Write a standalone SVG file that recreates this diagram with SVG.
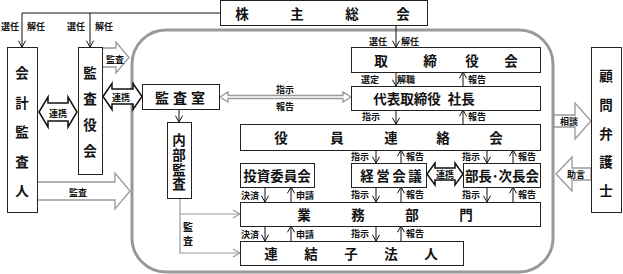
<svg xmlns="http://www.w3.org/2000/svg" width="623" height="274" viewBox="0 0 623 274">
<style>
.bx{fill:#fff;stroke:#222;stroke-width:1}
.t{font-family:"Noto Sans CJK JP","Liberation Sans",sans-serif;font-size:13.5px;font-weight:bold;fill:#111;text-anchor:middle;dominant-baseline:central}
.s{font-family:"Noto Sans CJK JP","Liberation Sans",sans-serif;font-size:9px;font-weight:bold;fill:#111;text-anchor:middle;dominant-baseline:central}
.ln{fill:none;stroke:#111;stroke-width:1;marker-end:url(#a)}
.gl{fill:none;stroke:#999;stroke-width:1.2;marker-end:url(#g)}
.ga{fill:#fff;stroke:#9a9a9a;stroke-width:1.3}
.ka{fill:#fff;stroke:#111;stroke-width:1.5}
</style>
<defs>
<marker id="a" viewBox="0 0 10 10" refX="9" refY="5" markerWidth="9" markerHeight="9" markerUnits="userSpaceOnUse" orient="auto"><path d="M2,1 L9,5 L2,9" fill="none" stroke="#111" stroke-width="1.1"/></marker>
<marker id="g" viewBox="0 0 10 10" refX="9" refY="5" markerWidth="10" markerHeight="10" markerUnits="userSpaceOnUse" orient="auto"><path d="M2,1 L9,5 L2,9" fill="none" stroke="#999" stroke-width="1.1"/></marker>
</defs>

<rect id="frame" x="132" y="30" width="421" height="242" rx="34" fill="none" stroke="#999" stroke-width="3"/>

<g id="connectors">
<polyline class="ln" points="220,13 22,13 22,47"/>
<line class="ln" x1="90" y1="13" x2="90" y2="47"/>
<line class="ln" x1="396" y1="25" x2="396" y2="47"/>
<line class="ln" x1="396" y1="72" x2="396" y2="86"/>
<line class="ln" x1="463" y1="86" x2="463" y2="72"/>
<line class="ln" x1="396" y1="110" x2="396" y2="124"/>
<line class="ln" x1="463" y1="124" x2="463" y2="110"/>
<line class="ln" x1="376" y1="150" x2="376" y2="163"/>
<line class="ln" x1="401" y1="163" x2="401" y2="150"/>
<line class="ln" x1="487" y1="150" x2="487" y2="163"/>
<line class="ln" x1="513" y1="163" x2="513" y2="150"/>
<line class="ln" x1="376" y1="187" x2="376" y2="202"/>
<line class="ln" x1="401" y1="202" x2="401" y2="187"/>
<line class="ln" x1="487" y1="187" x2="487" y2="202"/>
<line class="ln" x1="513" y1="202" x2="513" y2="187"/>
<line class="ln" x1="376" y1="226" x2="376" y2="241"/>
<line class="ln" x1="401" y1="241" x2="401" y2="226"/>
<line class="ln" x1="265" y1="187" x2="265" y2="202"/>
<line class="ln" x1="291" y1="202" x2="291" y2="187"/>
<line class="ln" x1="265" y1="226" x2="265" y2="241"/>
<line class="ln" x1="291" y1="241" x2="291" y2="226"/>
<line class="ln" x1="179" y1="110" x2="179" y2="122"/>
<polyline class="gl" points="180,198 180,253 240,253"/>
<line class="gl" x1="180" y1="214" x2="240" y2="214"/>
<polygon class="ga" points="220,97 228,92 228,95.5 343,95.5 343,92 351,97 343,102 343,98.5 228,98.5 228,102"/>
<polygon class="ga" points="37,182 115,182 115,173 130,191 115,209 115,200 37,200"/>
<polygon class="ga" points="102,48 116,48 116,42 129,57.5 116,73 116,67 102,67"/>
<polygon class="ka" points="39,112 48,97 48,103 68,103 68,97 77,112 68,127 68,121 48,121 48,127"/>
<polygon class="ka" points="103,96.5 112,83.5 112,89 133,89 133,83.5 142,96.5 133,109.5 133,104 112,104 112,109.5"/>
<polygon class="ka" points="427,174 435,163 435,168 455,168 455,163 463,174 455,185 455,180 435,180 435,185"/>
<polygon class="ga" points="554,115 575,115 575,103 591,121 575,139 575,127 554,127"/>
<polygon class="ga" points="556,174 572,157 572,168 591,168 591,180 572,180 572,191"/>
<text class="s" x="10" y="26">選任</text><text class="s" x="36" y="26">解任</text>
<text class="s" x="76" y="26">選任</text><text class="s" x="104" y="26">解任</text>
<text class="s" x="378" y="41">選任</text><text class="s" x="410" y="41">解任</text>
<text class="s" x="370" y="79">選定</text><text class="s" x="406" y="79">解職</text><text class="s" x="477" y="79">報告</text>
<text class="s" x="371" y="116">指示</text><text class="s" x="477" y="116">報告</text>
<text class="s" x="360" y="156">指示</text><text class="s" x="415" y="156">報告</text><text class="s" x="471" y="156">指示</text><text class="s" x="527" y="156">報告</text>
<text class="s" x="360" y="194">指示</text><text class="s" x="415" y="194">報告</text><text class="s" x="471" y="194">指示</text><text class="s" x="527" y="194">報告</text>
<text class="s" x="360" y="233">指示</text><text class="s" x="415" y="233">報告</text>
<text class="s" x="250" y="195">決済</text><text class="s" x="305" y="195">申請</text>
<text class="s" x="250" y="234">決済</text><text class="s" x="305" y="234">申請</text>
<text class="s" x="285" y="89">指示</text><text class="s" x="285" y="106">報告</text>
<text class="s" x="115" y="59">監査</text>
<text class="s" x="121" y="97">連携</text>
<text class="s" x="58" y="113">連携</text>
<text class="s" x="78" y="192">監査</text>
<text class="s" x="569" y="121">相談</text>
<text class="s" x="576" y="174">助言</text>
<text class="s" x="445" y="174">連携</text>
<text class="s" x="188 188" y="226 240" style="font-size:10px">監査</text>
</g>

<g id="shareholders"><rect class="bx" x="220.5" y="0.5" width="207" height="25"/><text class="t" x="242 297 352 403" y="13">株主総会</text></g>
<g id="auditor"><rect class="bx" x="7.5" y="47.5" width="30" height="165"/><text class="t" x="22 22 22 22 22" y="72 101.5 131 160.5 190">会計監査人</text></g>
<g id="audit-board"><rect class="bx" x="78.5" y="47.5" width="24" height="127"/><text class="t" x="90 90 90 90" y="72 98 124 150">監査役会</text></g>
<g id="audit-office"><rect class="bx" x="142.5" y="84.5" width="77" height="25"/><text class="t" x="162 180 198" y="97" style="font-size:14px">監査室</text></g>
<g id="internal-audit"><rect class="bx" x="167.5" y="122.5" width="24" height="76"/><text class="t" x="179 179 179 179" y="139 154 169 183">内部監査</text></g>
<g id="board"><rect class="bx" x="351.5" y="47.5" width="189" height="25"/><text class="t" x="381 430 472 511" y="60">取締役会</text></g>
<g id="president"><rect class="bx" x="351.5" y="86.5" width="189" height="24"/><text class="t" x="424" y="98">代表取締役<tspan dx="4"> 社長</tspan></text></g>
<g id="officers"><rect class="bx" x="240.5" y="124.5" width="300" height="26"/><text class="t" x="281 337 391 443 496" y="137">役員連絡会</text></g>
<g id="investment"><rect class="bx" x="240.5" y="163.5" width="74" height="24"/><text class="t" x="277" y="175">投資委員会</text></g>
<g id="management"><rect class="bx" x="351.5" y="163.5" width="75" height="24"/><text class="t" x="367 383 399 415" y="175">経営会議</text></g>
<g id="managers"><rect class="bx" x="463.5" y="163.5" width="77" height="24"/><text class="t" x="502" y="175">部長･次長会</text></g>
<g id="operations"><rect class="bx" x="240.5" y="202.5" width="300" height="24"/><text class="t" x="304 358 412 466" y="214">業務部門</text></g>
<g id="subsidiaries"><rect class="bx" x="240.5" y="241.5" width="223" height="24"/><text class="t" x="271 311 351 391 431" y="253">連結子法人</text></g>
<g id="lawyer"><rect class="bx" x="591.5" y="47.5" width="30" height="165"/><text class="t" x="606 606 606 606 606" y="75 104 133 161 190">顧問弁護士</text></g>
</svg>
